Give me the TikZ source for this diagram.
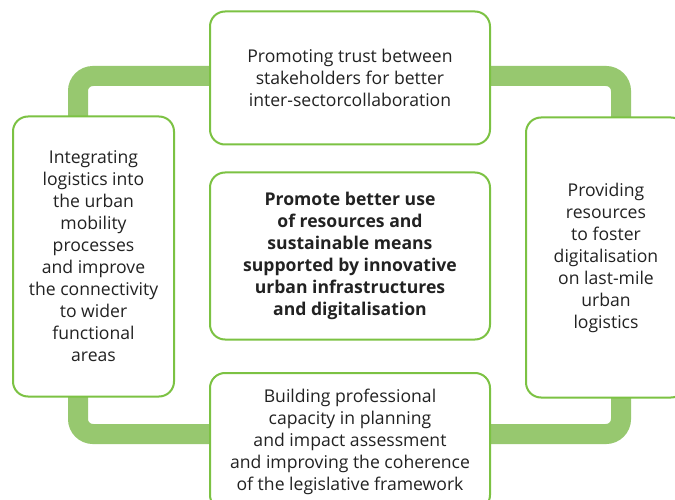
\documentclass[tikz,border=0pt]{standalone}
\usepackage{fontspec}
\setmainfont{Open Sans}
\definecolor{ringgreen}{HTML}{97C86F}
\definecolor{boxgreen}{HTML}{7CC243}
\definecolor{txt}{HTML}{222222}
\begin{document}
\begin{tikzpicture}[x=1pt,y=-1pt,
  box/.style={draw=boxgreen, line width=2pt, fill=white, rounded corners=15pt,
    align=center, inner sep=0pt, text=txt,
    font=\fontsize{17.6}{22}\selectfont},
  ring/.style={draw=ringgreen, line width=20pt, rounded corners=15pt}]
\useasboundingbox (0,0) rectangle (675,500);
\clip (0,0) rectangle (675,500);
\fill[white] (0,0) rectangle (675,500);
\draw[ring] (78,76) rectangle (621,434);
\node[box, minimum width=280pt, minimum height=133pt] (top) at (350,78)
  {Promoting trust between\\stakeholders for better\\inter-sectorcollaboration};
\node[box, minimum width=161pt, minimum height=280pt] (left) at (93.5,256.5)
  {Integrating\\logistics into\\the urban\\mobility\\processes\\and improve\\the connectivity\\to wider\\functional\\areas};
\node[box, minimum width=160pt, minimum height=280pt] (right) at (606,257.5)
  {Providing\\resources\\to foster\\digitalisation\\on last-mile\\urban\\logistics};
\node[box, minimum width=280pt, minimum height=167pt, font=\fontsize{17.6}{22}\selectfont\bfseries] (center) at (350,256)
  {Promote better use\\of resources and\\sustainable means\\supported by innovative\\urban infrastructures\\and digitalisation};
\node[box, minimum width=280pt, minimum height=137pt] (bottom) at (350,441.5)
  {Building professional\\capacity in planning\\and impact assessment\\and improving the coherence\\of the legislative framework};
\end{tikzpicture}
\end{document}
